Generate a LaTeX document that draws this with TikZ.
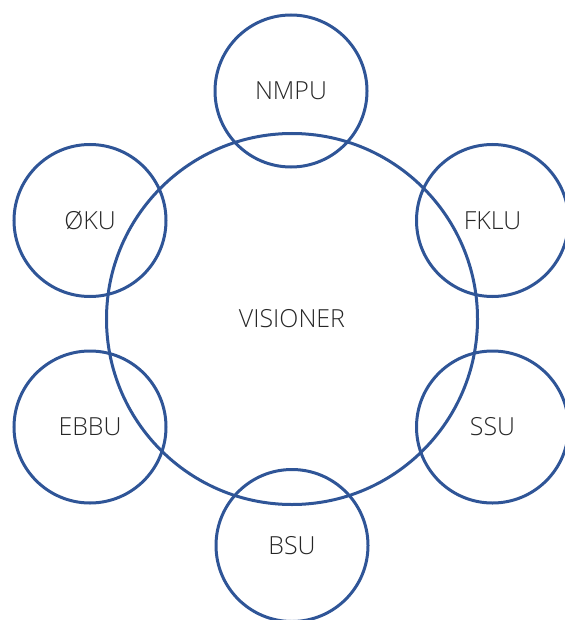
\documentclass[tikz,border=0pt]{standalone}
\usepackage{fontspec}
\setmainfont{Open Sans}[UprightFont=* Light]
\definecolor{ringblue}{HTML}{2F5597}
\definecolor{labelgray}{HTML}{262626}
\begin{document}
\begin{tikzpicture}[x=1bp,y=-1bp,
  ring/.style={circle,draw=ringblue,line width=3bp,inner sep=0pt,
    minimum size=152bp,font=\fontsize{25}{30}\selectfont,text=labelgray},
  bigring/.style={ring,minimum size=371bp}]
\useasboundingbox (0,0) rectangle (565,620);
\clip (0,0) rectangle (565,620);
\node[bigring] (vis) at (292,319) {VISIONER};
\node[ring] (nmpu) at (291,91) {NMPU};
\node[ring] (oku) at (90,220.5) {ØKU};
\node[ring] (fklu) at (492.5,220.5) {FKLU};
\node[ring] (ebbu) at (90,427) {EBBU};
\node[ring] (ssu) at (492.5,427) {SSU};
\node[ring] (bsu) at (292,545.5) {BSU};
\end{tikzpicture}
\end{document}
